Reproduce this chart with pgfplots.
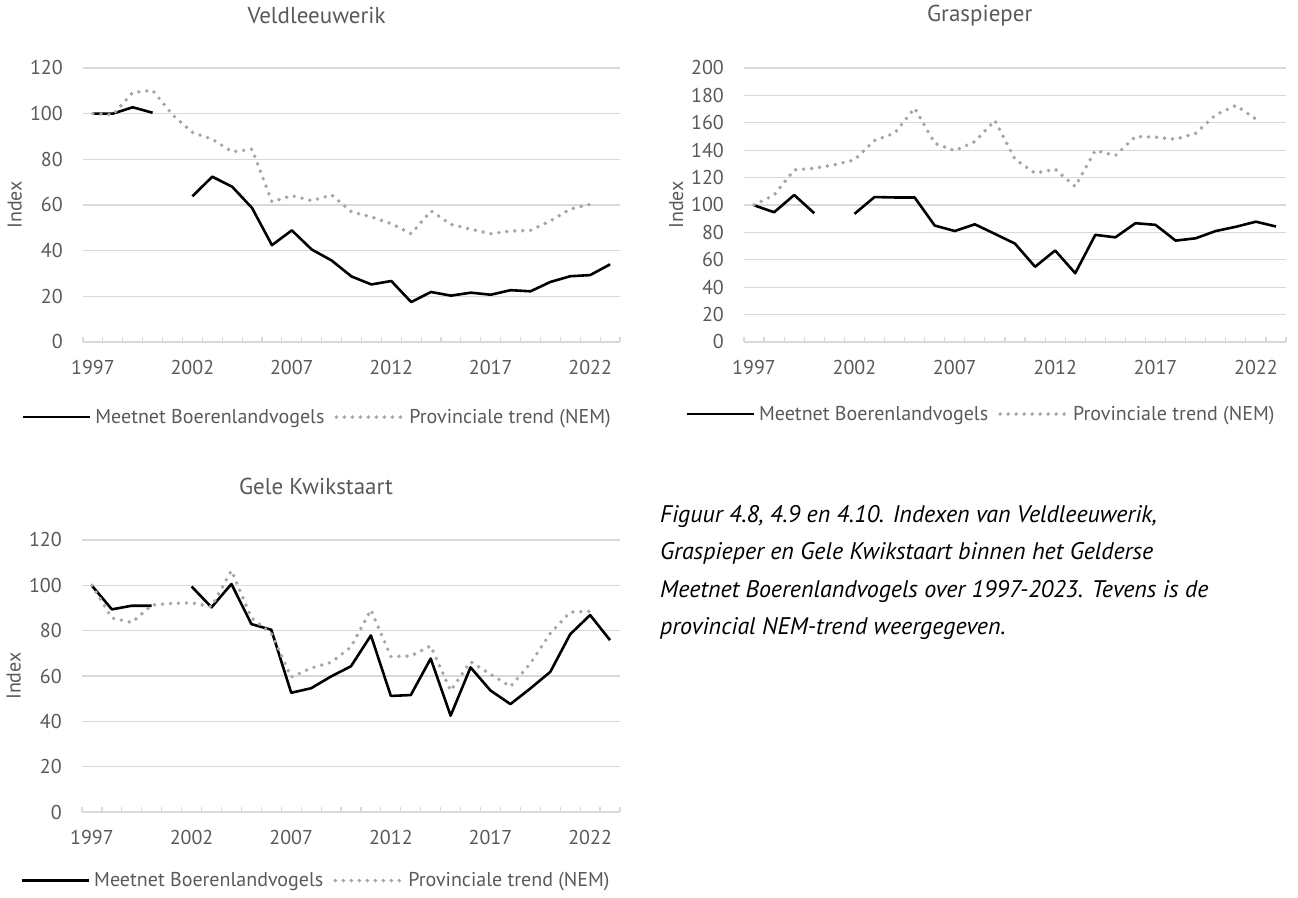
\documentclass[border=0pt]{standalone}
\usepackage{pgfplots}
\pgfplotsset{compat=1.18}
\usepackage{fontspec}
\setmainfont{PT Sans}
\definecolor{txt}{HTML}{595959}
\definecolor{gridc}{HTML}{D9D9D9}
\definecolor{nem}{HTML}{A6A6A6}

\pgfplotsset{
  bird/.style={
    scale only axis,
    xmin=1996.5, xmax=2023.5, ymin=0,
    axis x line*=bottom, axis y line*=left,
    x axis line style={draw=gridc, line width=1.2pt},
    y axis line style={draw=none},
    xtick={1997,2002,2007,2012,2017,2022},
    xticklabels={1997,2002,2007,2012,2017,2022},
    minor xtick={1996.5,1997.5,...,2023.5},
    major tick length=0pt, minor tick length=5pt, tick align=inside,
    every tick/.style={draw=gridc, line width=1.2pt},
    ymajorgrids, major grid style={draw=gridc, line width=1.2pt},
    every tick label/.append style={font=\fontsize{20}{22}\selectfont, text=txt, inner sep=0pt},
    /pgf/number format/assume math mode=true,
    yticklabel style={anchor=east, xshift=-20pt},
    xticklabel style={anchor=north, yshift=-18pt},
    unbounded coords=jump,
    clip=false,
    legend columns=-1,
    legend image code/.code={\draw[##1] (0pt,0pt) -- (67pt,0pt);},
    legend style={draw=none, fill=none, font=\fontsize{20}{22}\selectfont, text=txt,
      anchor=center, inner sep=0pt,
      /tikz/every even column/.append style={column sep=6pt},
      nodes={inner xsep=4pt, inner ysep=0pt}},
    ylabel={Index},
    ylabel style={font=\fontsize{20}{22}\selectfont, text=txt, anchor=center},
    title style={font=\fontsize{23}{26}\selectfont, text=txt, anchor=center},
  },
  bl/.style={black, line width=2.6pt, line join=round},
  nm/.style={nem, line width=3.9pt, line cap=round, dash pattern=on 0pt off 8pt},
}

\begin{document}
\begin{tikzpicture}
\path (0,0) rectangle (1298pt,897pt);

% ---------- Veldleeuwerik ----------
\begin{axis}[bird, at={(83pt,555pt)}, anchor=south west,
  width=537pt, height=274pt, ymax=120, ytick={0,20,...,120},
  ylabel style={at={(axis description cs:-0.127,0.5)}},
  title={Veldleeuwerik}, title style={at={(axis description cs:0.435,1.168)}},
  legend style={at={(axis description cs:0.438,-0.274)}}]
\addplot[bl] coordinates {(1997,100) (1998,100) (1999,102.8) (2000,100.4) (2001,nan)
 (2002,63.8) (2003,72.4) (2004,68.0) (2005,58.7) (2006,42.4) (2007,48.9) (2008,40.5)
 (2009,35.7) (2010,28.7) (2011,25.2) (2012,26.7) (2013,17.5) (2014,21.9) (2015,20.3)
 (2016,21.6) (2017,20.7) (2018,22.7) (2019,22.2) (2020,26.3) (2021,28.8) (2022,29.3) (2023,34.0)};
\addlegendentry{Meetnet Boerenlandvogels}
\addplot[nm] coordinates {(1997,100) (1998,99.5) (1999,109.3) (2000,110.2) (2001,99.5)
 (2002,91.8) (2003,88.8) (2004,83.3) (2005,84.4) (2006,61.4) (2007,64.1) (2008,61.9)
 (2009,64.4) (2010,57.0) (2011,54.8) (2012,51.8) (2013,47.4) (2014,57.4) (2015,51.5)
 (2016,49.4) (2017,47.4) (2018,48.6) (2019,48.9) (2020,53.0) (2021,58.2) (2022,60.3)};
\addlegendentry{Provinciale trend (NEM)}
\end{axis}

% ---------- Graspieper ----------
\begin{axis}[bird, at={(744pt,555pt)}, anchor=south west,
  width=542pt, height=274pt, ymax=200, ytick={0,20,...,200},
  ylabel style={at={(axis description cs:-0.125,0.5)}},
  title={Graspieper}, title style={at={(axis description cs:0.435,1.168)}},
  legend style={at={(axis description cs:0.439,-0.263)}}]
\addplot[bl] coordinates {(1997,99.8) (1998,94.7) (1999,107.3) (2000,94.0) (2001,nan)
 (2002,93.5) (2003,105.8) (2004,105.5) (2005,105.5) (2006,85.0) (2007,81.0) (2008,85.9)
 (2009,78.9) (2010,71.8) (2011,54.9) (2012,66.8) (2013,50.2) (2014,78.2) (2015,76.4)
 (2016,86.7) (2017,85.5) (2018,74.0) (2019,75.7) (2020,81.0) (2021,84.1) (2022,87.8) (2023,84.3)};
\addlegendentry{Meetnet Boerenlandvogels}
\addplot[nm] coordinates {(1997,100) (1998,107.3) (1999,125.6) (2000,126.8) (2001,129.3)
 (2002,132.9) (2003,147.1) (2004,152.4) (2005,170.7) (2006,145.1) (2007,139.6) (2008,146.3)
 (2009,161.7) (2010,133.4) (2011,123.2) (2012,126.1) (2013,113.5) (2014,139.8) (2015,136.1)
 (2016,150.0) (2017,149.5) (2018,148.0) (2019,152.4) (2020,165.9) (2021,172.6) (2022,162.7)};
\addlegendentry{Provinciale trend (NEM)}
\end{axis}

% ---------- Gele Kwikstaart ----------
\begin{axis}[bird, at={(82pt,85pt)}, anchor=south west,
  width=538pt, height=272pt, ymax=120, ytick={0,20,...,120},
  ylabel style={at={(axis description cs:-0.127,0.5)}},
  title={Gele Kwikstaart}, title style={at={(axis description cs:0.435,1.173)}},
  legend style={at={(axis description cs:0.437,-0.252)}}]
\addplot[bl] coordinates {(1997,99.8) (1998,89.4) (1999,91.0) (2000,91.0) (2001,nan)
 (2002,99.5) (2003,90.3) (2004,100.6) (2005,82.9) (2006,80.4) (2007,52.6) (2008,54.6)
 (2009,59.8) (2010,64.3) (2011,77.9) (2012,51.2) (2013,51.6) (2014,67.7) (2015,42.5)
 (2016,63.8) (2017,53.6) (2018,47.6) (2019,54.5) (2020,61.8) (2021,78.4) (2022,86.9) (2023,75.8)};
\addlegendentry{Meetnet Boerenlandvogels}
\addplot[nm] coordinates {(1997,100) (1998,85.6) (1999,83.6) (2000,91.3) (2001,92.0)
 (2002,92.3) (2003,90.6) (2004,106.5) (2005,85.7) (2006,78.8) (2007,59.5) (2008,63.5)
 (2009,66.0) (2010,72.8) (2011,89.2) (2012,68.6) (2013,68.8) (2014,73.3) (2015,53.5)
 (2016,66.3) (2017,60.8) (2018,55.3) (2019,65.5) (2020,78.8) (2021,88.2) (2022,88.5)};
\addlegendentry{Provinciale trend (NEM)}
\end{axis}

% ---------- caption ----------
\node[anchor=base west, align=left, inner sep=0pt,
  font=\fontsize{24}{37.5}\selectfont\itshape, text=black] at (660pt,262pt)
{Figuur 4.8, 4.9 en 4.10. Indexen van Veldleeuwerik,\\
Graspieper en Gele Kwikstaart binnen het Gelderse\\
Meetnet Boerenlandvogels over 1997-2023. Tevens is de\\
provincial NEM-trend weergegeven.};

\pgfresetboundingbox
\path (0,0) rectangle (1298pt,897pt);
\end{tikzpicture}
\end{document}
